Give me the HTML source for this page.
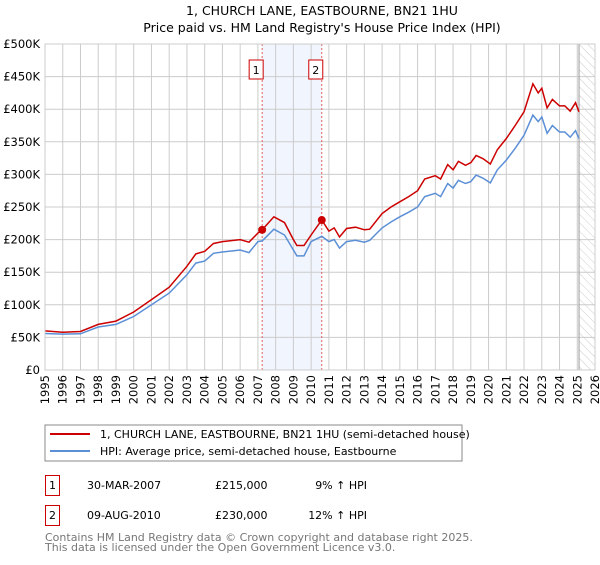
<!DOCTYPE html>
<html><head><meta charset="utf-8"><style>
body{margin:0;background:#fff;font-family:"Liberation Sans","DejaVu Sans",sans-serif;}
svg text{font-family:"DejaVu Sans","Liberation Sans",sans-serif;}
</style></head><body>
<svg id="c" width="600" height="560" xmlns="http://www.w3.org/2000/svg">
<text x="322" y="15" text-anchor="middle" font-size="12.5" fill="#000">1, CHURCH LANE, EASTBOURNE, BN21 1HU</text>
<text x="322" y="32" text-anchor="middle" font-size="12.5" fill="#000">Price paid vs. HM Land Registry's House Price Index (HPI)</text>
<defs><pattern id="hatch" width="6" height="6" patternUnits="userSpaceOnUse" patternTransform="rotate(-45)"><line x1="0" y1="0" x2="0" y2="6" stroke="#ccc" stroke-width="1"/></pattern></defs>
<g id="grid"></g><g id="marks"></g>
<rect x="45" y="44" width="550" height="326" fill="none" stroke="#ccc"/>
<rect x="45" y="425" width="417" height="36" fill="#fff" stroke="#888"/>
<line x1="50" y1="434" x2="90" y2="434" stroke="#cc0000" stroke-width="2"/>
<text x="100" y="438" font-size="11">1, CHURCH LANE, EASTBOURNE, BN21 1HU (semi-detached house)</text>
<line x1="50" y1="451" x2="90" y2="451" stroke="#5b8fd6" stroke-width="2"/>
<text x="100" y="455" font-size="11">HPI: Average price, semi-detached house, Eastbourne</text>
<g>
<rect x="45.5" y="475.5" width="14" height="20" fill="none" stroke="#cc0000"/>
<text x="52.5" y="489" text-anchor="middle" font-size="11">1</text>
<text x="87" y="489" font-size="11">30-MAR-2007</text>
<text x="215" y="489" font-size="11">£215,000</text>
<text x="367" y="489" font-size="11" text-anchor="end">9% ↑ HPI</text></g>
<g>
<rect x="45.5" y="505.5" width="14" height="20" fill="none" stroke="#cc0000"/>
<text x="52.5" y="519" text-anchor="middle" font-size="11">2</text>
<text x="87" y="519" font-size="11">09-AUG-2010</text>
<text x="215" y="519" font-size="11">£230,000</text>
<text x="367" y="519" font-size="11" text-anchor="end">12% ↑ HPI</text></g>
<text x="45" y="541" font-size="11" fill="#777">Contains HM Land Registry data © Crown copyright and database right 2025.</text>
<text x="45" y="551" font-size="11" fill="#777">This data is licensed under the Open Government Licence v3.0.</text>
</svg>
<script>
const years=[1995,1996,1997,1998,1999,2000,2001,2002,2003,2003.5,2004,2004.5,2005,2006,2006.5,2007,2007.24,2007.9,2008.5,2009,2009.2,2009.6,2010,2010.6,2011,2011.3,2011.6,2012,2012.5,2013,2013.3,2014,2014.5,2015,2015.5,2016,2016.4,2017,2017.3,2017.7,2018,2018.3,2018.7,2019,2019.3,2019.7,2020.1,2020.5,2021,2021.5,2022,2022.5,2022.8,2023,2023.3,2023.6,2024,2024.3,2024.6,2024.9,2025.1];
const hpiValues=[56,55,55.5,66,70,82,100,118,146,164,167,179,181,184,180,197,198,216,207,184,175,175,197,205,197,200,187,197,199,196,199,218,227,235,242,250,266,271,266,286,279,291,286,289,299,294,287,307,322,340,360,391,381,388,363,375,365,365,357,367,355];
const propertyValues=[60,58,59,70,75,89,108,127,159,178,182,194,197,200,196,210,215,235,226,200,191,191,207,230,213,218,204,217,219,215,216,240,250,258,266,275,293,298,293,315,307,320,314,318,329,324,316,338,355,375,396,439,425,432,402,415,405,405,397,410,396];
const saleDates=[2007.24,2010.6];
const salePrices=[215,230];
const yTicks=[0,50,100,150,200,250,300,350,400,450,500];
const yTickLabels=["£0","£50K","£100K","£150K","£200K","£250K","£300K","£350K","£400K","£450K","£500K"];
const xTicks=[1995,1996,1997,1998,1999,2000,2001,2002,2003,2004,2005,2006,2007,2008,2009,2010,2011,2012,2013,2014,2015,2016,2017,2018,2019,2020,2021,2022,2023,2024,2025,2026];
const X0=45,X1=595,Y0=370,Y1=44;
const x=t=>X0+(t-1995)/(2026-1995)*(X1-X0);
const y=v=>Y0-v/500*(Y0-Y1);
const NS="http://www.w3.org/2000/svg";
function mk(tag,attrs,parent,txt){const e=document.createElementNS(NS,tag);for(const k in attrs)e.setAttribute(k,attrs[k]);if(txt!==undefined)e.textContent=txt;parent.appendChild(e);return e;}
const g=document.getElementById('grid'),m=document.getElementById('marks');
let r=mk('rect',{x:x(saleDates[0]),y:Y1,width:x(saleDates[1])-x(saleDates[0]),height:Y0-Y1,fill:'#eef3fc',opacity:0.8},g);


r=mk('rect',{x:x(2025.1),y:Y1,width:X1-x(2025.1),height:Y0-Y1,fill:'url(#hatch)'},g);


yTicks.forEach((v,i)=>{
 const l=mk('line',{x1:X0,x2:X1,y1:y(v),y2:y(v),stroke:'#ccc'},g);
 
 
 const t=mk('text',{x:40,y:y(v)+4,'text-anchor':'end','font-size':11.5},g,yTickLabels[i]);
 
 
});
xTicks.forEach(v=>{
 const l=mk('line',{x1:x(v),x2:x(v),y1:Y1,y2:Y0,stroke:'#ccc'},g);
 
 
 const t=mk('text',{x:0,y:0,'text-anchor':'end','font-size':11.5,transform:`translate(${x(v)+4},${Y0+5}) rotate(-90)`},g,String(v));
 
 
});
const v1=mk('line',{x1:x(2025.1),x2:x(2025.1),y1:Y1,y2:Y0,stroke:'#999'},g);


saleDates.forEach((d,i)=>{
 const l=mk('line',{x1:x(d),x2:x(d),y1:Y1,y2:Y0,stroke:'#e06060','stroke-dasharray':'2,2'},m);
 
 
 const b=mk('rect',{x:x(d)-13,y:60,width:14,height:19,fill:'#fff',stroke:'#cc0000'},m);
 
 
 const t=mk('text',{x:x(d)-6,y:74,'text-anchor':'middle','font-size':11},m,String(i+1));
 
 
});
const pts=a=>a.map((v,i)=>x(years[i]).toFixed(1)+','+y(v).toFixed(1)).join(' ');
const h=mk('polyline',{points:pts(hpiValues),fill:'none',stroke:'#5b8fd6','stroke-width':1.5},m);


const p=mk('polyline',{points:pts(propertyValues),fill:'none',stroke:'#cc0000','stroke-width':1.5},m);


saleDates.forEach((d,i)=>{
 const c=mk('circle',{cx:x(d),cy:y(salePrices[i]),r:4,fill:'#cc0000'},m);
 
 
});
</script>
</body></html>
